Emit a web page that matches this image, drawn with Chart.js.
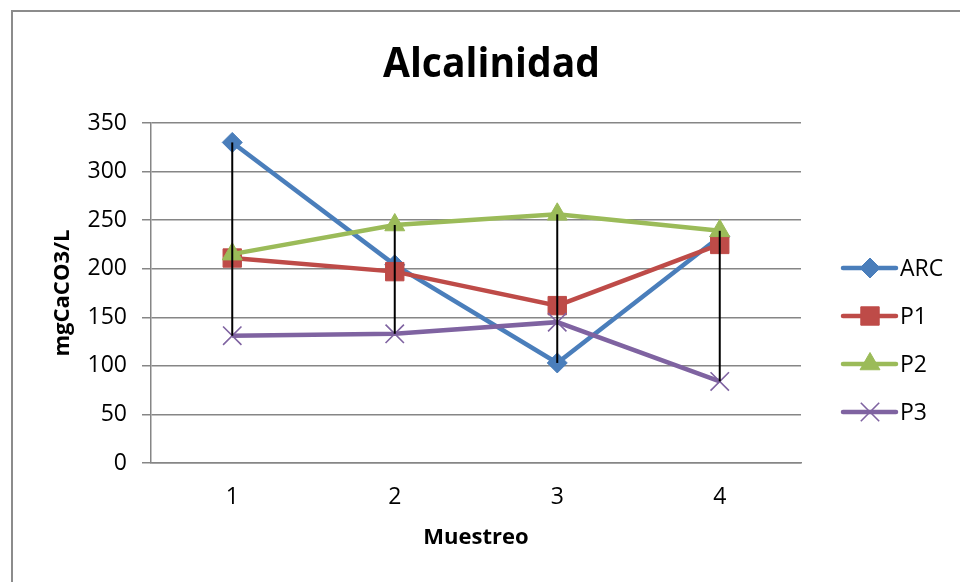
<!DOCTYPE html>
<html>
<head>
<meta charset="utf-8">
<title>Alcalinidad</title>
<script src="https://cdn.jsdelivr.net/npm/chart.js@4/dist/chart.umd.min.js"></script>
<style>
  html, body { margin: 0; padding: 0; background: #ffffff; }
  canvas { display: block; }
</style>
</head>
<body>
<canvas id="chart" width="960" height="582"></canvas>
<script>
// Sampling rounds (x axis)
const muestreos = ['1', '2', '3', '4'];

// Alkalinity per sampling point, mgCaCO3/L
const arc = [330, 204, 103, 233];
const p1 = [211, 197, 162, 225];
const p2 = [215, 245, 256, 239];
const p3 = [131, 133, 145, 84];

// Value axis range and step
const yMin = 0;
const yMax = 350;
const yStep = 50;

const FONT = "'Open Sans', 'Liberation Sans', sans-serif";
const GRID = '#868686';

const series = [
  { label: 'ARC', data: arc, color: '#4A7EBB', point: 'rectRot', radius: 10, pbw: 1, order: 4 },
  { label: 'P1',  data: p1,  color: '#BE4B48', point: 'rect', radius: 13, pbw: 1, order: 3 },
  { label: 'P2',  data: p2,  color: '#9BBB59', point: 'triangle', radius: 11.5, pbw: 1, order: 2 },
  { label: 'P3',  data: p3,  color: '#7F63A1', point: 'crossRot', radius: 13, pbw: 1.6, order: 1 }
];

// Outer frame of the chart object
const framePlugin = {
  id: 'frame',
  beforeDraw(chart) {
    const ctx = chart.ctx;
    ctx.save();
    ctx.fillStyle = '#ffffff';
    ctx.fillRect(0, 0, chart.width, chart.height);
    ctx.strokeStyle = '#8c8c8c';
    ctx.lineWidth = 2;
    ctx.strokeRect(12, 11, chart.width + 20, chart.height + 20);
    ctx.restore();
  }
};

// Chart title
const titlePlugin = {
  id: 'bigTitle',
  afterDraw(chart) {
    const ctx = chart.ctx;
    ctx.save();
    ctx.font = 'bold 42px ' + FONT;
    ctx.fillStyle = '#000000';
    ctx.textAlign = 'center';
    ctx.textBaseline = 'alphabetic';
    ctx.fillText('Alcalinidad', 491.5, 77, 217);
    ctx.restore();
  }
};

// High-low lines: from the highest to the lowest value at each sampling round
const hiLoPlugin = {
  id: 'hiLo',
  afterDatasetsDraw(chart) {
    const ctx = chart.ctx;
    const xs = chart.scales.x, ys = chart.scales.y;
    ctx.save();
    ctx.strokeStyle = '#000000';
    ctx.lineWidth = 2;
    muestreos.forEach((m, i) => {
      const vals = chart.data.datasets.map(d => d.data[i]);
      const hi = Math.max(...vals), lo = Math.min(...vals);
      const x = xs.getPixelForValue(i);
      ctx.beginPath();
      ctx.moveTo(x, ys.getPixelForValue(hi));
      ctx.lineTo(x, ys.getPixelForValue(lo));
      ctx.stroke();
    });
    ctx.restore();
  }
};

function drawMarker(ctx, s, x, y) {
  const r = s.radius;
  ctx.beginPath();
  if (s.point === 'rectRot') {
    ctx.moveTo(x, y - r); ctx.lineTo(x + r, y); ctx.lineTo(x, y + r); ctx.lineTo(x - r, y);
    ctx.closePath(); ctx.fill(); ctx.stroke();
  } else if (s.point === 'rect') {
    const h = r * Math.SQRT1_2;
    ctx.rect(x - h, y - h, 2 * h, 2 * h); ctx.fill(); ctx.stroke();
  } else if (s.point === 'triangle') {
    ctx.moveTo(x, y - r);
    ctx.lineTo(x + r * Math.sin(2 * Math.PI / 3), y - r * Math.cos(2 * Math.PI / 3));
    ctx.lineTo(x + r * Math.sin(4 * Math.PI / 3), y - r * Math.cos(4 * Math.PI / 3));
    ctx.closePath(); ctx.fill(); ctx.stroke();
  } else if (s.point === 'crossRot') {
    const h = r * Math.SQRT1_2;
    ctx.moveTo(x - h, y - h); ctx.lineTo(x + h, y + h);
    ctx.moveTo(x + h, y - h); ctx.lineTo(x - h, y + h);
    ctx.stroke();
  }
}

// Legend on the right: line sample with marker, then the series name
const legendPlugin = {
  id: 'sideLegend',
  afterDraw(chart) {
    const ctx = chart.ctx;
    const rows = [268, 316, 364, 412];
    ctx.save();
    series.forEach((s, i) => {
      const y = rows[i];
      ctx.strokeStyle = s.color;
      ctx.lineWidth = 4.5;
      ctx.lineCap = 'round';
      ctx.beginPath();
      ctx.moveTo(843, y); ctx.lineTo(896, y);
      ctx.stroke();
      ctx.lineCap = 'butt';
      ctx.fillStyle = s.color;
      ctx.lineWidth = s.pbw;
      drawMarker(ctx, s, 870, y);
      ctx.fillStyle = '#000000';
      ctx.font = '23px ' + FONT;
      ctx.textAlign = 'left';
      ctx.textBaseline = 'middle';
      ctx.fillText(s.label, 900, y + 1);
    });
    ctx.restore();
  }
};

new Chart(document.getElementById('chart'), {
  type: 'line',
  data: {
    labels: muestreos,
    datasets: series.map(s => ({
      label: s.label,
      data: s.data,
      borderColor: s.color,
      backgroundColor: s.color,
      borderWidth: 4.5,
      tension: 0,
      pointStyle: s.point,
      pointRadius: s.radius,
      pointHoverRadius: s.radius,
      pointBorderWidth: s.pbw,
      pointBorderColor: s.color,
      pointBackgroundColor: s.color,
      order: s.order
    }))
  },
  options: {
    responsive: false,
    animation: false,
    devicePixelRatio: 1,
    events: [],
    layout: { padding: { left: 0, right: 159, top: 123, bottom: 0 } },
    plugins: {
      legend: { display: false },
      title: { display: false },
      tooltip: { enabled: false }
    },
    scales: {
      x: {
        type: 'category',
        offset: true,
        grid: { display: false, drawTicks: false },
        border: { display: true, color: GRID, width: 1.5 },
        ticks: { color: '#000000', font: { family: FONT, size: 23 }, padding: 21 },
        title: {
          display: true, text: 'Muestreo', color: '#000000',
          font: { family: FONT, size: 22, weight: 'bold' },
          padding: { top: 0, bottom: 31 }
        },
        afterFit(scale) { scale.height = 119; }
      },
      y: {
        min: yMin,
        max: yMax,
        grid: { color: GRID, lineWidth: 1.5, tickLength: 9, drawTicks: true },
        border: { display: true, color: GRID, width: 1.5 },
        ticks: { stepSize: yStep, color: '#000000', font: { family: FONT, size: 23 }, padding: 15 },
        title: {
          display: true, text: 'mgCaCO3/L', color: '#000000',
          font: { family: FONT, size: 22, weight: 'bold' },
          padding: { top: 50, bottom: 0 }
        },
        afterFit(scale) { scale.width = 151; }
      }
    }
  },
  plugins: [framePlugin, hiLoPlugin, titlePlugin, legendPlugin]
});
</script>
</body>
</html>
